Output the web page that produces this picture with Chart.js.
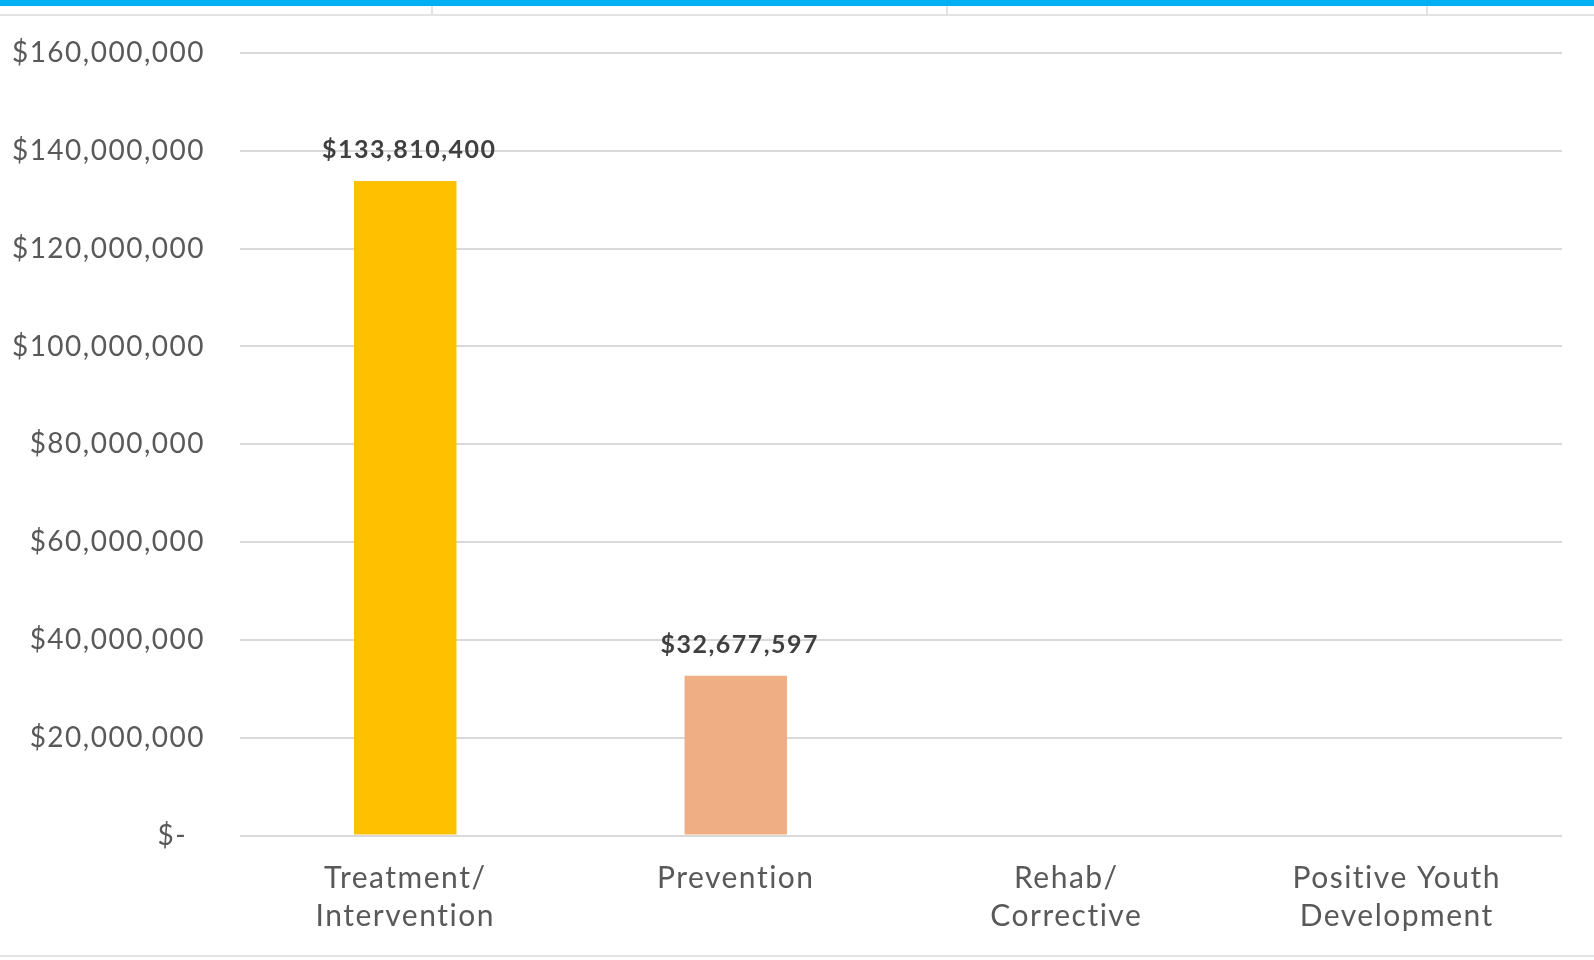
<!DOCTYPE html>
<html>
<head>
<meta charset="utf-8">
<script src="https://cdn.jsdelivr.net/npm/chart.js@4.4.1/dist/chart.umd.min.js"></script>
<style>
  html, body { margin: 0; padding: 0; background: #fff; }
  #wrap { position: relative; width: 1594px; height: 960px; overflow: hidden; }
  #topBand { position: absolute; left: 0; top: 0; width: 1594px; height: 6px; background: #00b0f0; }
  #topRule { position: absolute; left: 0; top: 14px; width: 1594px; height: 2px; background: #e3e3e3; }
  #bottomRule { position: absolute; left: 0; top: 955px; width: 1594px; height: 2px; background: #e3e3e3; }
  .sep { position: absolute; top: 6px; width: 2px; height: 9px; background: #e3e3e3; }
  canvas { position: absolute; left: 0; top: 0; }
</style>
</head>
<body>
<div id="wrap">
  <canvas id="myChart" width="1594" height="960"></canvas>
  <div id="topBand"></div>
  <div id="topRule"></div>
  <div class="sep" style="left:431px"></div>
  <div class="sep" style="left:946px"></div>
  <div class="sep" style="left:1426px"></div>
  <div id="bottomRule"></div>
</div>
<script>
var categories = [['Treatment/', 'Intervention'], 'Prevention', ['Rehab/', 'Corrective'], ['Positive Youth', 'Development']];
var funding = [133810400, 32677597, 0, 0];
var barColors = ['#ffc000', '#f0ae84', '#a5a5a5', '#5b9bd5'];
var yTicks = [0, 20000000, 40000000, 60000000, 80000000, 100000000, 120000000, 140000000, 160000000];

var fontFamily = 'Lato, "DejaVu Sans", sans-serif';

function dollars(v) {
    if (v === 0) return '$-\u2007';
    return '$' + v.toLocaleString('en-US');
}

// a little extra tracking so the text runs as wide as the original typeface
function spaceLetters(chart) {
    chart.ctx.letterSpacing = '1.5px';
}
var tracking = {
    id: 'tracking',
    beforeUpdate: spaceLetters,
    beforeDraw: spaceLetters
};

// writes the amount above each bar, skipping empty categories
var barLabels = {
    id: 'barLabels',
    afterDatasetsDraw: function(chart) {
        var ctx = chart.ctx;
        var meta = chart.getDatasetMeta(0);
        ctx.save();
        ctx.font = 'bold 25px ' + fontFamily;
        ctx.fillStyle = '#404040';
        ctx.textAlign = 'center';
        ctx.textBaseline = 'middle';
        for (var i = 0; i < meta.data.length; i++) {
            var v = funding[i];
            if (!v) continue;
            var bar = meta.data[i];
            ctx.fillText(dollars(v), bar.x + 4, bar.y - 31);
        }
        ctx.restore();
    }
};

var context = document.getElementById('myChart');
var myBarChart = new Chart(context, {
    type: 'bar',
    data: {
        labels: categories,
        datasets: [{
            data: funding,
            backgroundColor: barColors,
            borderWidth: 0,
            barPercentage: 0.62,
            categoryPercentage: 0.5
        }]
    },
    options: {
        responsive: false,
        animation: false,
        layout: { padding: { top: 53, right: 32, left: 0, bottom: 0 } },
        plugins: {
            legend: { display: false },
            tooltip: { enabled: false }
        },
        scales: {
            x: {
                grid: { display: false },
                border: { display: false },
                ticks: {
                    color: '#595959',
                    font: { family: fontFamily, size: 30, lineHeight: 1.25 },
                    padding: 16,
                    maxRotation: 0
                },
                afterFit: function(scale) { scale.height = 124.4; }
            },
            y: {
                min: 0,
                max: 160000000,
                afterBuildTicks: function(scale) {
                    scale.ticks = yTicks.map(function(v) { return { value: v }; });
                },
                grid: { color: '#d9d9d9', lineWidth: 2, drawTicks: false },
                border: { display: false },
                ticks: {
                    color: '#595959',
                    font: { family: fontFamily, size: 28 },
                    padding: 35,
                    callback: function(v) { return dollars(v); }
                },
                afterFit: function(scale) { scale.width = 240; }
            }
        }
    },
    plugins: [tracking, barLabels]
});
</script>
</body>
</html>
